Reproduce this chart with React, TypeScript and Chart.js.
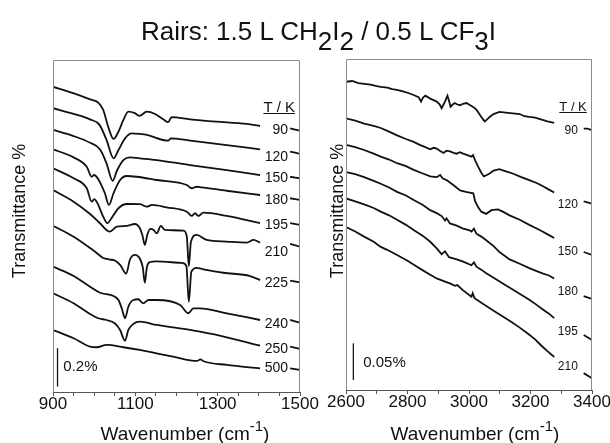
import { useEffect, useRef } from "react";
import { Chart, registerables } from "chart.js";

Chart.register(...registerables);

type Pt = [number, number | null];

const FONT = "'Liberation Sans', Arial, Helvetica, sans-serif";
const INK = "#111";

// ---- 900–1500 cm-1 region: stacked spectra, transmittance % (offset) ----
const lowTemps = ["90", "120", "150", "180", "195", "210", "225", "240", "250", "500"];
// null at 1440 leaves room for the temperature label
const low90: Pt[] = [[900,1.590],[949,1.556],[990,1.524],[1010,1.507],[1022,1.469],[1034,1.382],[1047,1.318],[1059,1.356],[1071,1.417],[1083,1.460],[1099,1.452],[1110,1.438],[1128,1.460],[1148,1.448],[1168,1.420],[1180,1.405],[1188,1.431],[1233,1.420],[1314,1.405],[1379,1.394],[1403,1.385],[1440,null],[1476,1.373],[1500,1.361]];
const low120: Pt[] = [[900,1.478],[950,1.448],[990,1.420],[1013,1.391],[1030,1.313],[1047,1.217],[1059,1.260],[1075,1.321],[1091,1.347],[1111,1.344],[1128,1.339],[1180,1.309],[1186,1.321],[1233,1.309],[1322,1.286],[1403,1.264],[1440,null],[1476,1.252],[1500,1.240]];
const low150: Pt[] = [[900,1.365],[950,1.333],[990,1.298],[1014,1.264],[1030,1.191],[1045,1.100],[1056,1.156],[1071,1.208],[1087,1.222],[1111,1.217],[1152,1.208],[1233,1.182],[1322,1.156],[1403,1.130],[1440,null],[1476,1.121],[1500,1.113]];
const low180: Pt[] = [[900,1.264],[950,1.222],[982,1.173],[994,1.121],[1000,1.130],[1010,1.108],[1026,1.035],[1036,0.974],[1047,1.035],[1063,1.104],[1079,1.125],[1103,1.121],[1152,1.104],[1225,1.078],[1237,1.061],[1249,1.069],[1261,1.066],[1322,1.048],[1403,1.026],[1440,null],[1476,1.009],[1500,1.000]];
const low195: Pt[] = [[900,1.165],[950,1.113],[982,1.061],[994,0.991],[1000,1.004],[1008,0.983],[1022,0.913],[1032,0.879],[1042,0.905],[1059,0.957],[1079,0.979],[1111,0.978],[1128,0.965],[1140,0.974],[1176,0.962],[1225,0.939],[1237,0.917],[1245,0.931],[1253,0.917],[1265,0.934],[1322,0.917],[1403,0.879],[1440,null],[1476,0.879],[1500,0.870]];
const low210: Pt[] = [[900,1.052],[950,0.991],[990,0.927],[1014,0.879],[1038,0.835],[1055,0.861],[1079,0.865],[1099,0.875],[1111,0.853],[1117,0.818],[1123,0.766],[1129,0.818],[1136,0.850],[1144,0.845],[1152,0.826],[1162,0.865],[1172,0.844],[1217,0.840],[1225,0.809],[1230,0.656],[1235,0.783],[1249,0.818],[1273,0.792],[1322,0.783],[1371,0.778],[1387,0.792],[1403,0.778],[1440,null],[1476,0.771],[1500,0.757]];
const low225: Pt[] = [[900,0.866],[950,0.809],[990,0.750],[1006,0.724],[1022,0.698],[1038,0.690],[1050,0.685],[1063,0.662],[1078,0.617],[1087,0.690],[1099,0.714],[1112,0.690],[1118,0.650],[1123,0.569],[1128,0.650],[1136,0.677],[1150,0.680],[1213,0.672],[1224,0.656],[1230,0.470],[1236,0.625],[1249,0.646],[1265,0.639],[1314,0.621],[1379,0.604],[1403,0.583],[1440,null],[1476,0.580],[1500,0.571]];
const low240: Pt[] = [[900,0.653],[950,0.604],[990,0.548],[1014,0.517],[1047,0.500],[1059,0.479],[1067,0.436],[1075,0.384],[1083,0.444],[1095,0.479],[1107,0.483],[1119,0.462],[1132,0.479],[1152,0.479],[1209,0.453],[1229,0.410],[1241,0.436],[1257,0.436],[1322,0.410],[1403,0.375],[1440,null],[1476,0.375],[1500,0.361]];
const low250: Pt[] = [[900,0.514],[950,0.462],[990,0.406],[1010,0.384],[1030,0.375],[1050,0.358],[1063,0.323],[1075,0.267],[1083,0.323],[1095,0.354],[1111,0.366],[1152,0.349],[1233,0.323],[1257,0.314],[1322,0.285],[1403,0.241],[1440,null],[1476,0.236],[1500,0.224]];
const low500: Pt[] = [[900,0.323],[950,0.280],[990,0.236],[1006,0.233],[1030,0.245],[1071,0.233],[1111,0.219],[1192,0.184],[1250,0.162],[1258,0.170],[1266,0.160],[1322,0.141],[1403,0.123],[1440,null],[1476,0.123],[1500,0.115]];
const lowSeries = [low90, low120, low150, low180, low195, low210, low225, low240, low250, low500];
const lowLabelLevels = [1.365, 1.225, 1.115, 1.0, 0.870, 0.726, 0.568, 0.354, 0.224, 0.125];
const lowScaleBar: Pt[] = [[911, 0.028], [911, 0.228]];
const lowScaleText = "0.2%";

// ---- 2600–3400 cm-1 region ----
const highTemps = ["90", "120", "150", "180", "195", "210"];
const high90: Pt[] = [[2600,0.420],[2620,0.421],[2640,0.418],[2659,0.417],[2680,0.416],[2700,0.414],[2713,0.413],[2735,0.412],[2750,0.410],[2766,0.409],[2785,0.407],[2800,0.405],[2820,0.402],[2836,0.399],[2844,0.393],[2850,0.398],[2858,0.401],[2874,0.397],[2895,0.393],[2905,0.389],[2911,0.384],[2917,0.389],[2922,0.393],[2930,0.401],[2935,0.394],[2940,0.386],[2947,0.389],[2954,0.391],[2962,0.389],[2971,0.388],[2980,0.390],[2992,0.391],[3000,0.389],[3008,0.387],[3016,0.385],[3024,0.382],[3032,0.377],[3040,0.372],[3051,0.366],[3060,0.369],[3067,0.372],[3080,0.376],[3099,0.379],[3120,0.378],[3142,0.377],[3165,0.376],[3180,0.373],[3196,0.372],[3215,0.371],[3239,0.368],[3255,0.366],[3277,0.364],[3325,null],[3373,0.356],[3385,0.356],[3400,0.354]];
const high120: Pt[] = [[2600,0.370],[2630,0.367],[2659,0.363],[2690,0.360],[2713,0.357],[2740,0.352],[2766,0.347],[2795,0.342],[2820,0.338],[2840,0.334],[2858,0.331],[2874,0.328],[2885,0.330],[2895,0.329],[2905,0.326],[2917,0.323],[2927,0.326],[2938,0.325],[2950,0.323],[2960,0.322],[2970,0.324],[2981,0.322],[2995,0.320],[3008,0.318],[3013,0.320],[3020,0.313],[3030,0.304],[3040,0.296],[3048,0.291],[3058,0.293],[3067,0.295],[3080,0.299],[3099,0.301],[3120,0.298],[3142,0.295],[3170,0.290],[3196,0.286],[3220,0.282],[3239,0.278],[3260,0.273],[3277,0.269],[3325,null],[3373,0.257],[3400,0.254]];
const high150: Pt[] = [[2600,0.334],[2630,0.331],[2659,0.327],[2690,0.322],[2713,0.318],[2740,0.314],[2766,0.309],[2795,0.305],[2820,0.300],[2850,0.295],[2874,0.291],[2895,0.290],[2906,0.293],[2915,0.288],[2927,0.286],[2950,0.279],[2971,0.272],[2990,0.270],[3002,0.269],[3014,0.268],[3020,0.257],[3030,0.249],[3040,0.243],[3056,0.240],[3073,0.245],[3094,0.246],[3110,0.243],[3132,0.238],[3165,0.232],[3196,0.225],[3220,0.220],[3239,0.216],[3260,0.211],[3277,0.207],[3325,null],[3373,0.188],[3400,0.184]];
const high180: Pt[] = [[2600,0.297],[2630,0.294],[2659,0.290],[2690,0.285],[2713,0.281],[2740,0.276],[2766,0.270],[2795,0.265],[2820,0.259],[2850,0.252],[2874,0.245],[2895,0.241],[2911,0.237],[2922,0.231],[2927,0.234],[2938,0.227],[2960,0.224],[2981,0.220],[3000,0.218],[3008,0.216],[3016,0.220],[3024,0.213],[3040,0.209],[3056,0.204],[3080,0.196],[3099,0.188],[3132,0.178],[3165,0.172],[3196,0.166],[3220,0.162],[3239,0.159],[3260,0.156],[3277,0.152],[3325,null],[3373,0.128],[3400,0.124]];
const high195: Pt[] = [[2600,0.261],[2630,0.257],[2659,0.253],[2690,0.248],[2713,0.243],[2740,0.238],[2766,0.232],[2795,0.225],[2820,0.218],[2850,0.210],[2874,0.202],[2895,0.193],[2911,0.185],[2922,0.189],[2935,0.181],[2960,0.178],[2981,0.175],[3008,0.170],[3016,0.174],[3024,0.168],[3040,0.164],[3056,0.159],[3080,0.153],[3110,0.145],[3150,0.135],[3196,0.123],[3220,0.116],[3239,0.110],[3260,0.104],[3277,0.098],[3325,null],[3373,0.075],[3400,0.068]];
const high210: Pt[] = [[2600,0.222],[2630,0.216],[2659,0.209],[2690,0.202],[2713,0.195],[2734,0.191],[2766,0.184],[2800,0.176],[2831,0.168],[2850,0.163],[2874,0.157],[2895,0.152],[2920,0.148],[2940,0.145],[2954,0.142],[2962,0.143],[2980,0.136],[3008,0.127],[3012,0.132],[3018,0.125],[3050,0.116],[3084,0.107],[3110,0.100],[3137,0.093],[3165,0.085],[3191,0.077],[3215,0.069],[3234,0.061],[3255,0.053],[3277,0.045],[3325,null],[3373,0.023],[3400,0.016]];
const highSeries = [high90, high120, high150, high180, high195, high210];
const highLabelLevels = [0.354, 0.253, 0.189, 0.134, 0.079, 0.032];
const highScaleBar: Pt[] = [[2624, 0.0136], [2624, 0.0636]];
const highScaleText = "0.05%";

type PanelCfg = {
  width: number;
  left: number;
  padding: { left: number; right: number; top: number };
  axisHeight: number;
  xMin: number;
  xMax: number;
  step: number;
  labelEvery: number;
  yMax: number;
  smooth: boolean;
  series: Pt[][];
  temps: string[];
  levels: number[];
  labelX: number;
  headX: number;
  labelSize: number;
  headSize: number;
  bar: Pt[];
  barText: string;
  barTextX: number;
  barTextLevel: number;
  xTitleCenter: number;
  yTitleBaseline: number;
};

const lowPanel: PanelCfg = {
  width: 323, left: 0,
  padding: { left: 53, right: 23, top: 60 },
  axisHeight: 51,
  xMin: 900, xMax: 1500, step: 50, labelEvery: 200, yMax: 1.729, smooth: true,
  series: lowSeries, temps: lowTemps, levels: lowLabelLevels,
  labelX: 1471, headX: 1488, labelSize: 14, headSize: 15,
  bar: lowScaleBar, barText: lowScaleText, barTextX: 925, barTextLevel: 0.130,
  xTitleCenter: 185, yTitleBaseline: 25,
};

const highPanel: PanelCfg = {
  width: 287, left: 323,
  padding: { left: 23, right: 18, top: 59 },
  axisHeight: 53,
  xMin: 2600, xMax: 3400, step: 100, labelEvery: 200, yMax: 0.451, smooth: false,
  series: highSeries, temps: highTemps, levels: highLabelLevels,
  labelX: 3354, headX: 3383, labelSize: 12, headSize: 13,
  bar: highScaleBar, barText: highScaleText, barTextX: 2656, barTextLevel: 0.0372,
  xTitleCenter: 152, yTitleBaseline: 20,
};

function drawXTitle(ctx: CanvasRenderingContext2D, cx: number, baseline: number) {
  const main = "Wavenumber (cm";
  const sup = "-1";
  const close = ")";
  ctx.font = `19px ${FONT}`;
  const w1 = ctx.measureText(main).width;
  const w3 = ctx.measureText(close).width;
  ctx.font = `15px ${FONT}`;
  const w2 = ctx.measureText(sup).width;
  let x = cx - (w1 + w2 + w3) / 2;
  ctx.textAlign = "left";
  ctx.textBaseline = "alphabetic";
  ctx.font = `19px ${FONT}`;
  ctx.fillText(main, x, baseline);
  x += w1;
  ctx.font = `15px ${FONT}`;
  ctx.fillText(sup, x, baseline - 9);
  x += w2;
  ctx.font = `19px ${FONT}`;
  ctx.fillText(close, x, baseline);
}

function makeDecor(cfg: PanelCfg) {
  return {
    id: "panelDecor",
    afterDatasetsDraw(chart: Chart) {
      const { ctx, chartArea: a } = chart;
      const x = chart.scales.x;
      const y = chart.scales.y;
      ctx.save();
      // frame on the three open sides
      ctx.strokeStyle = "#8c8c8c";
      ctx.lineWidth = 1;
      ctx.beginPath();
      ctx.moveTo(a.left + 0.5, a.bottom);
      ctx.lineTo(a.left + 0.5, a.top + 0.5);
      ctx.lineTo(a.right - 0.5, a.top + 0.5);
      ctx.lineTo(a.right - 0.5, a.bottom);
      ctx.stroke();

      ctx.fillStyle = INK;
      ctx.strokeStyle = INK;
      // temperature labels
      ctx.textAlign = "right";
      ctx.textBaseline = "middle";
      ctx.font = `${cfg.labelSize}px ${FONT}`;
      cfg.temps.forEach((t, i) => {
        ctx.fillText(t, x.getPixelForValue(cfg.labelX), y.getPixelForValue(cfg.levels[i]));
      });
      // "T / K" heading, underlined
      ctx.font = `${cfg.headSize}px ${FONT}`;
      ctx.textBaseline = "alphabetic";
      const hx = x.getPixelForValue(cfg.headX);
      const hy = a.top + 52;
      const head = "T / K";
      const hw = ctx.measureText(head).width;
      ctx.fillText(head, hx, hy);
      ctx.lineWidth = 1;
      ctx.beginPath();
      ctx.moveTo(hx - hw, hy + 1.5);
      ctx.lineTo(hx, hy + 1.5);
      ctx.stroke();

      // scale-bar caption
      ctx.textAlign = "left";
      ctx.textBaseline = "middle";
      ctx.font = `15px ${FONT}`;
      ctx.fillText(cfg.barText, x.getPixelForValue(cfg.barTextX), y.getPixelForValue(cfg.barTextLevel));

      // axis titles
      drawXTitle(ctx, cfg.xTitleCenter, 440);
      ctx.save();
      ctx.translate(cfg.yTitleBaseline, 211);
      ctx.rotate(-Math.PI / 2);
      ctx.textAlign = "center";
      ctx.textBaseline = "alphabetic";
      ctx.font = `18px ${FONT}`;
      ctx.fillText("Transmittance %", 0, 0);
      ctx.restore();
      ctx.restore();
    },
  };
}

function Panel({ cfg }: { cfg: PanelCfg }) {
  const ref = useRef<HTMLCanvasElement | null>(null);
  useEffect(() => {
    if (!ref.current) return;
    const toXY = (pts: Pt[]) => pts.map(([px, py]) => ({ x: px, y: py }));
    const datasets: any[] = cfg.series.map((s, i) => ({
      label: cfg.temps[i] + " K",
      data: toXY(s),
      borderColor: INK,
      borderWidth: 1.8,
      pointRadius: 0,
      cubicInterpolationMode: cfg.smooth ? "monotone" : "default",
      tension: 0,
      spanGaps: false,
    }));
    datasets.push({
      label: "scale",
      data: toXY(cfg.bar),
      borderColor: INK,
      borderWidth: 1.3,
      pointRadius: 0,
      tension: 0,
      spanGaps: false,
    });
    const chart = new Chart(ref.current, {
      type: "line",
      data: { datasets },
      options: {
        animation: false,
        responsive: false,
        devicePixelRatio: 1,
        events: [],
        layout: { padding: { left: cfg.padding.left, right: cfg.padding.right, top: cfg.padding.top, bottom: 0 } },
        plugins: { legend: { display: false }, tooltip: { enabled: false }, title: { display: false } },
        scales: {
          x: {
            type: "linear",
            position: "bottom",
            min: cfg.xMin,
            max: cfg.xMax,
            ticks: {
              stepSize: cfg.step,
              autoSkip: false,
              maxRotation: 0,
              minRotation: 0,
              padding: 0,
              color: INK,
              font: { family: FONT, size: 17, lineHeight: 1 },
              callback: (v: any) => ((Number(v) - cfg.xMin) % cfg.labelEvery === 0 ? String(v) : ""),
            },
            grid: { display: true, drawOnChartArea: false, drawTicks: true, tickLength: 4, color: "#555", tickColor: "#555", lineWidth: 1 },
            border: { display: true, color: "#555", width: 1 },
            afterFit: (s: any) => {
              s.height = cfg.axisHeight;
              s.paddingLeft = 0;
              s.paddingRight = 0;
            },
          },
          y: { type: "linear", min: 0, max: cfg.yMax, display: false },
        },
      },
      plugins: [makeDecor(cfg)],
    } as any);
    return () => chart.destroy();
  }, [cfg]);
  return (
    <canvas
      ref={ref}
      width={cfg.width}
      height={443}
      style={{ position: "absolute", left: cfg.left, top: 0, width: cfg.width, height: 443 }}
    />
  );
}

const subStyle: React.CSSProperties = { fontSize: "1em", verticalAlign: "-10px", lineHeight: 0 };

export default function App() {
  return (
    <div style={{ position: "absolute", left: 0, top: 0, width: 610, height: 443, background: "#fff", overflow: "hidden" }}>
      <Panel cfg={lowPanel} />
      <Panel cfg={highPanel} />
      <div
        style={{
          position: "absolute",
          left: 141,
          top: 18,
          fontFamily: FONT,
          fontSize: 26,
          lineHeight: "26px",
          color: INK,
          whiteSpace: "nowrap",
        }}
      >
        Rairs: 1.5 L CH<sub style={subStyle}>2</sub>I<sub style={subStyle}>2</sub> / 0.5 L CF<sub style={subStyle}>3</sub>I
      </div>
    </div>
  );
}
